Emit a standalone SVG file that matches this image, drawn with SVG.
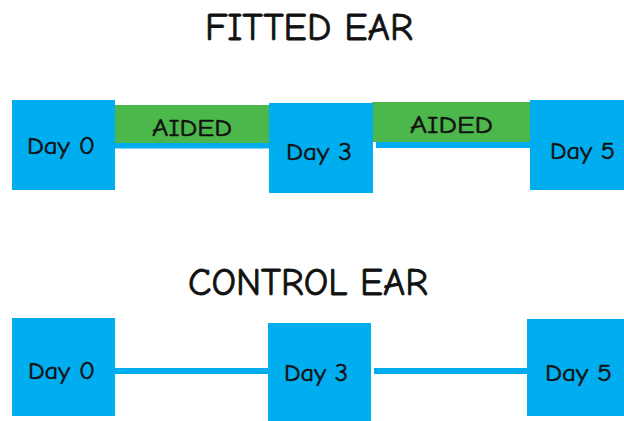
<svg xmlns="http://www.w3.org/2000/svg" width="624" height="421" viewBox="0 0 624 421">
<style>
.box{fill:#00AEEF;}
.aid{fill:#4CB84C;}
.ln{stroke:#00AEEF;stroke-width:6;fill:none;}
.t{font-family:"Comic Sans MS","Comic Neue","DejaVu Sans",sans-serif;fill:#111;stroke:#111;stroke-width:0.5;}
.title{font-size:38px;stroke-width:0.8;}
.lbl{font-size:24px;}
</style>
<rect width="624" height="421" fill="#fff"/>
<text class="t title" x="205" y="40" textLength="208" lengthAdjust="spacingAndGlyphs">FITTED EAR</text>
<text class="t title" x="188" y="295" textLength="240" lengthAdjust="spacingAndGlyphs">CONTROL EAR</text>
<g id="connectors">
<line class="ln" x1="115" y1="145.5" x2="270" y2="145.5"/>
<line class="ln" x1="376" y1="145" x2="531" y2="145"/>
<line class="ln" x1="115" y1="371" x2="269" y2="371"/>
<line class="ln" x1="374" y1="371" x2="528" y2="371"/>
<g id="aided1">
<rect class="aid" x="115" y="105" width="155" height="38"/>
<text class="t lbl" x="152" y="136" textLength="80" lengthAdjust="spacingAndGlyphs">AIDED</text>
</g>
<g id="aided2">
<rect class="aid" x="372" y="102" width="159" height="40"/>
<text class="t lbl" x="410" y="133" textLength="83" lengthAdjust="spacingAndGlyphs">AIDED</text>
</g>
</g>
<g id="fitted-day0">
<rect class="box" x="12" y="100" width="103" height="90"/>
<text class="t lbl" x="27" y="154" textLength="68" lengthAdjust="spacingAndGlyphs">Day 0</text>
</g>
<g id="fitted-day3">
<rect class="box" x="269" y="103" width="104" height="90"/>
<text class="t lbl" x="286" y="160" textLength="66" lengthAdjust="spacingAndGlyphs">Day 3</text>
</g>
<g id="fitted-day5">
<rect class="box" x="530" y="100" width="94" height="90"/>
<text class="t lbl" x="550" y="159" textLength="65" lengthAdjust="spacingAndGlyphs">Day 5</text>
</g>
<g id="control-day0">
<rect class="box" x="12" y="318" width="103" height="98"/>
<text class="t lbl" x="28" y="379" textLength="67" lengthAdjust="spacingAndGlyphs">Day 0</text>
</g>
<g id="control-day3">
<rect class="box" x="268" y="323" width="103" height="98"/>
<text class="t lbl" x="284" y="381" textLength="64" lengthAdjust="spacingAndGlyphs">Day 3</text>
</g>
<g id="control-day5">
<rect class="box" x="527" y="319" width="97" height="97"/>
<text class="t lbl" x="545" y="381" textLength="67" lengthAdjust="spacingAndGlyphs">Day 5</text>
</g>
</svg>
